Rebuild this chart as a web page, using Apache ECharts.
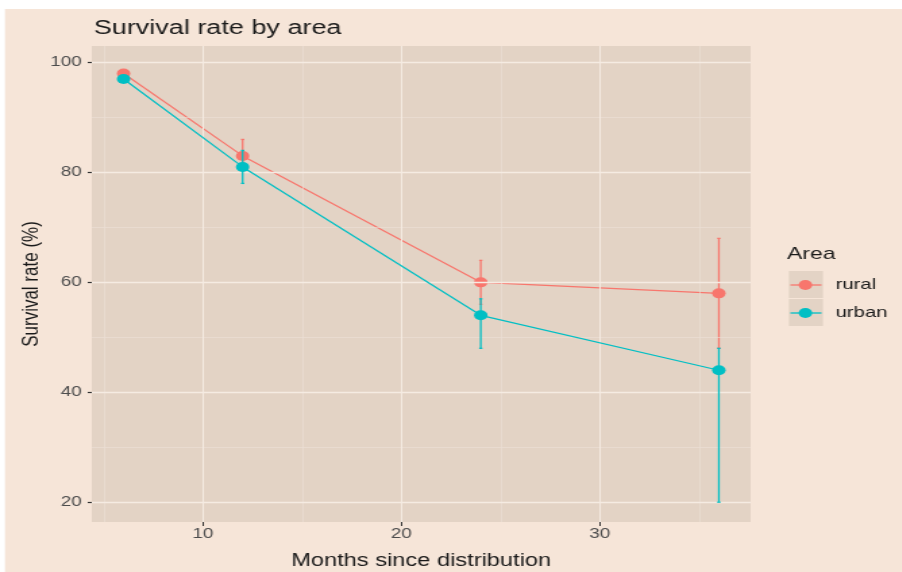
<!DOCTYPE html>
<html>
<head>
<meta charset="utf-8">
<script src="https://cdn.jsdelivr.net/npm/echarts@6/dist/echarts.min.js"></script>
<style>
  html, body { margin: 0; padding: 0; background: #F6E5D8; overflow: hidden; }
  /* the reference is stretched sideways, so the chart is drawn narrow and widened */
  #chart { width: 668px; height: 572px; transform: scaleX(1.35); transform-origin: 0 0; }
</style>
</head>
<body>
<div id="chart"></div>
<script>
// data
var months = [6, 12, 24, 36];
var ruralRate = [98, 83, 60, 58];
var ruralLow  = [97.5, 80, 56, 48];
var ruralHigh = [98.5, 86, 64, 68];
var urbanRate = [97, 81, 54, 44];
var urbanLow  = [96.5, 78, 48, 20];
var urbanHigh = [97.5, 84, 57, 48];
var xTicks = [10, 20, 30];
var xMinor = [5, 15, 25, 35];
var yTicks = [20, 40, 60, 80, 100];
var yMinor = [30, 50, 70, 90];

var RURAL = '#F8766D', URBAN = '#00BFC4';
var chart = echarts.init(document.getElementById('chart'));

function pairs(xs, ys) {
    return xs.map(function (x, i) { return [x, ys[i]]; });
}
function errData(lo, hi) {
    return months.map(function (m, i) { return [m, lo[i], hi[i]]; });
}
function errBar(color) {
    return function (params, api) {
        var x = api.value(0);
        var p1 = api.coord([x, api.value(1)]);
        var p2 = api.coord([x, api.value(2)]);
        var st = { stroke: color, lineWidth: 1.3 };
        return {
            type: 'group',
            children: [
                { type: 'line', shape: { x1: p1[0], y1: p1[1], x2: p2[0], y2: p2[1] }, style: st },
                { type: 'line', shape: { x1: p1[0] - 1.2, y1: p1[1], x2: p1[0] + 1.2, y2: p1[1] }, style: st },
                { type: 'line', shape: { x1: p2[0] - 1.2, y1: p2[1], x2: p2[0] + 1.2, y2: p2[1] }, style: st }
            ]
        };
    };
}

var gridLines = [];
xMinor.forEach(function (v) { gridLines.push({ xAxis: v, lineStyle: { width: 0.6, color: '#EDE1D6', type: 'solid' } }); });
yMinor.forEach(function (v) { gridLines.push({ yAxis: v, lineStyle: { width: 0.6, color: '#EDE1D6', type: 'solid' } }); });
xTicks.forEach(function (v) { gridLines.push({ xAxis: v, lineStyle: { width: 1.1, color: '#F5EBE2', type: 'solid' } }); });
yTicks.forEach(function (v) { gridLines.push({ yAxis: v, lineStyle: { width: 1.3, color: '#F5EBE2', type: 'solid' } }); });

var FONT = '"Liberation Sans", Arial, sans-serif';

var option = {
    backgroundColor: '#F6E5D8',
    animation: false,
    textStyle: { fontFamily: FONT },
    title: {
        text: 'Survival rate by area',
        left: 69.5, top: 18, padding: 0,
        textStyle: { fontSize: 20, fontWeight: 'normal', color: '#1a1a1a', fontFamily: FONT }
    },
    grid: {
        left: 68, right: 112, top: 46, bottom: 50,
        outerBoundsMode: 'none', containLabel: false,
        show: true, backgroundColor: '#E3D3C5', borderWidth: 0
    },
    xAxis: {
        type: 'value', min: 4.4, max: 37.6,
        name: 'Months since distribution', nameLocation: 'middle', nameGap: 30,
        nameTextStyle: { fontSize: 17.5, color: '#1a1a1a', fontFamily: FONT },
        axisLine: { show: false },
        axisTick: { show: true, length: 4, customValues: xTicks, lineStyle: { color: '#333', width: 1 } },
        axisLabel: { customValues: xTicks, color: '#4d4d4d', fontSize: 14, margin: 5, fontFamily: FONT },
        splitLine: { show: false }
    },
    yAxis: {
        type: 'value', min: 16.4, max: 103,
        name: 'Survival rate (%)', nameLocation: 'middle', nameGap: 36, nameRotate: 90,
        nameMoveOverlap: false,
        nameTextStyle: { fontSize: 17, color: '#1a1a1a', fontFamily: FONT },
        axisLine: { show: false },
        axisTick: { show: true, length: 3, customValues: yTicks, lineStyle: { color: '#333', width: 1.2 } },
        axisLabel: { customValues: yTicks, color: '#4d4d4d', fontSize: 14, margin: 7.5, fontFamily: FONT },
        splitLine: { show: false }
    },
    graphic: [
        { type: 'rect', shape: { x: 0, y: 0, width: 668, height: 9 }, style: { fill: '#fff' } },
        { type: 'rect', shape: { x: 0, y: 0, width: 3.7, height: 572 }, style: { fill: '#fff' } },
        { type: 'text', left: 583, top: 246, style: { text: 'Area', fontSize: 17, fill: '#1a1a1a', fontFamily: FONT } },
        { type: 'rect', shape: { x: 584.4, y: 271, width: 25.2, height: 27 }, style: { fill: '#E3D3C5' } },
        { type: 'rect', shape: { x: 584.4, y: 299, width: 25.2, height: 27 }, style: { fill: '#E3D3C5' } },
        { type: 'line', shape: { x1: 585.5, y1: 285, x2: 608.5, y2: 285 }, style: { stroke: RURAL, lineWidth: 1.3 } },
        { type: 'circle', shape: { cx: 596.6, cy: 285, r: 5 }, style: { fill: RURAL } },
        { type: 'line', shape: { x1: 585.5, y1: 313, x2: 608.5, y2: 313 }, style: { stroke: URBAN, lineWidth: 1.3 } },
        { type: 'circle', shape: { cx: 596.6, cy: 313, r: 5 }, style: { fill: URBAN } },
        { type: 'text', left: 619, top: 277, style: { text: 'rural', fontSize: 15, fill: '#1a1a1a', fontFamily: FONT } },
        { type: 'text', left: 619, top: 305, style: { text: 'urban', fontSize: 15, fill: '#1a1a1a', fontFamily: FONT } }
    ],
    series: [
        {
            type: 'line', name: 'grid', data: [], silent: true,
            markLine: { silent: true, symbol: 'none', label: { show: false }, animation: false, data: gridLines }
        },
        {
            type: 'custom', name: 'rural err', data: errData(ruralLow, ruralHigh),
            renderItem: errBar(RURAL), encode: { x: 0, y: [1, 2] }, z: 3
        },
        {
            type: 'line', name: 'rural', data: pairs(months, ruralRate),
            symbol: 'circle', symbolSize: 10, color: RURAL,
            lineStyle: { width: 1.2, color: RURAL }, itemStyle: { color: RURAL }, z: 4
        },
        {
            type: 'custom', name: 'urban err', data: errData(urbanLow, urbanHigh),
            renderItem: errBar(URBAN), encode: { x: 0, y: [1, 2] }, z: 5
        },
        {
            type: 'line', name: 'urban', data: pairs(months, urbanRate),
            symbol: 'circle', symbolSize: 10, color: URBAN,
            lineStyle: { width: 1.2, color: URBAN }, itemStyle: { color: URBAN }, z: 6
        }
    ]
};
chart.setOption(option);
</script>
</body>
</html>
